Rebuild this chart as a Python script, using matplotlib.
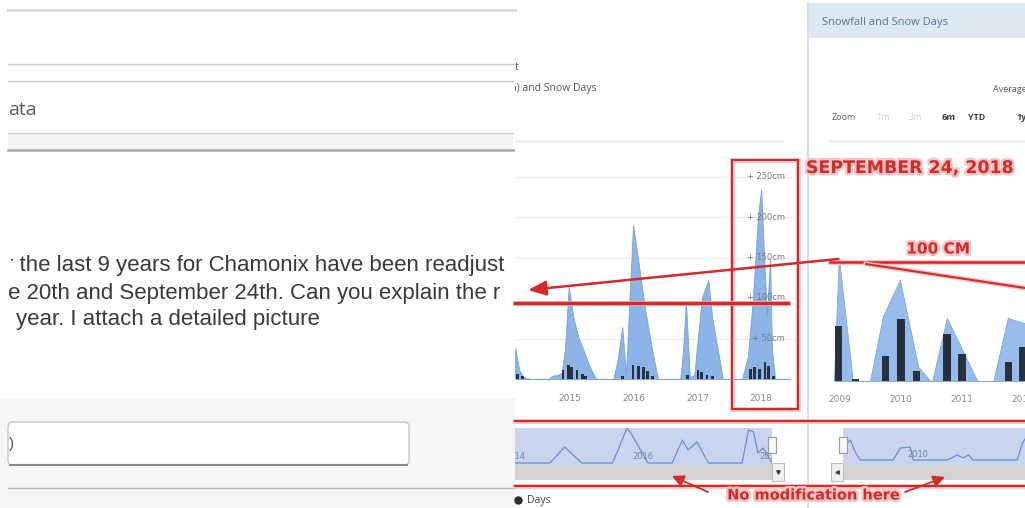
import matplotlib
matplotlib.use('Agg')
import matplotlib.pyplot as plt
from matplotlib.patches import Rectangle, FancyBboxPatch
import matplotlib.patheffects as pe

W, H = 1025, 508

# middle chart (2014-2018): snow depth in cm
depth_yr = [2014.14, 2014.20, 2014.26, 2014.37,
            2014.65, 2014.73, 2014.81, 2014.87, 2014.92, 2014.98, 2015.05, 2015.13, 2015.19, 2015.31, 2015.41,
            2015.68, 2015.75, 2015.82, 2015.88, 2015.94, 2015.99, 2016.07, 2016.18, 2016.29, 2016.38,
            2016.73, 2016.77, 2016.82, 2016.88, 2016.95, 2017.07, 2017.17, 2017.23, 2017.31, 2017.40,
            2017.70, 2017.79, 2017.87, 2017.95, 2018.00, 2018.03, 2018.09, 2018.14, 2018.17, 2018.22, 2018.45]
depth_cm = [38, 12, 3, 0,
            0, 4, 5, 8, 36, 114, 77, 52, 40, 15, 0,
            0, 25, 64, 5, 110, 190, 147, 85, 36, 0,
            0, 30, 95, 2, 5, 101, 122, 77, 40, 0,
            0, 27, 98, 200, 234, 180, 77, 147, 36, 0, 0]
# middle chart: snow days
days_yr = [2014.18, 2014.26,
           2014.89, 2014.97, 2015.03, 2015.11, 2015.19, 2015.25,
           2015.82, 2015.99, 2016.07, 2016.15, 2016.22, 2016.30,
           2016.84, 2017.01, 2017.07, 2017.15, 2017.24,
           2017.83, 2017.90, 2017.98, 2018.06, 2018.12, 2018.19]
days_n = [3, 2,
          6, 9, 8, 6, 3, 2,
          2, 9, 8.5, 8, 5, 2,
          2.5, 6, 4.5, 2.5, 2,
          6.5, 8, 6.5, 11, 8.5, 2]
mid_years = [2015, 2016, 2017, 2018]
mid_levels = [50, 100, 150, 200, 250]

# right chart (2009-2012)
depth2_yr = [2008.90, 2008.98, 2009.21, 2009.49, 2009.70, 2009.98, 2010.28, 2010.48,
             2010.51, 2010.75, 2011.25, 2011.51, 2011.75, 2012.05]
depth2_cm = [0, 104, 0, 0, 54, 85, 12, 0, 0, 53, 0, 0, 53, 48]
days2_yr = [2008.98, 2009.25, 2009.74, 2010.0, 2010.25, 2010.75, 2011.0, 2011.76, 2011.99]
days2_n = [11, 0.4, 5, 12.4, 2, 9.4, 5.4, 3.8, 6.8]
right_years = [2009, 2010, 2011, 2012]

# navigators
nav1_yr = [2014.16, 2014.71, 2014.94, 2015.21, 2015.69, 2015.78, 2015.92, 2015.98, 2016.25, 2016.63,
           2016.79, 2016.88, 2017.02, 2017.20, 2017.73, 2017.83, 2017.91, 2017.98, 2018.06, 2018.20]
nav1_v = [0, 0, 16, 0, 0, 13, 35, 30, 0, 0, 23, 13, 21, 0, 0, 33, 31, 10, 15, 0]
nav2_yr = [2009.02, 2009.07, 2009.15, 2009.23, 2009.77, 2009.89, 2010.05, 2010.10, 2010.66,
           2010.82, 2010.92, 2011.0, 2011.08, 2011.80, 2011.89, 2011.93]
nav2_v = [18, 21, 9, 1, 1, 13, 14, 1, 1, 6, 3, 6, 1, 1, 18, 22]

RED = '#d62828'
AREA = '#8db4e6'
BAR = '#28313f'
glow = [pe.withStroke(linewidth=3.5, foreground='#f6c4c4')]

fig = plt.figure(figsize=(W/100, H/100), dpi=100)


def px_axes(x0, y0, x1, y1, z=1):
    a = fig.add_axes([x0/W, 1-y1/H, (x1-x0)/W, (y1-y0)/H], zorder=z)
    return a


# ---- background / page chrome
bg = px_axes(0, 0, W, H, z=0)
bg.set_xlim(0, W); bg.set_ylim(H, 0); bg.axis('off')
bg.add_patch(Rectangle((0, 398), 515, 110, fc='#f6f6f6', ec='none'))
bg.plot([8, 515], [10, 10], color='#d9d9d9', lw=2)
bg.plot([8, 513], [64, 64], color='#c8c8c8', lw=1)
bg.plot([8, 513], [81, 81], color='#c8c8c8', lw=1)
bg.add_patch(Rectangle((8, 133), 505, 17, fc='#f4f4f4', ec='none'))
bg.plot([8, 513], [133, 133], color='#d0d0d0', lw=1)
bg.plot([8, 513], [150, 150], color='#a8a8a8', lw=1.8)
bg.add_patch(FancyBboxPatch((8, 422), 401, 43, boxstyle='round,pad=0,rounding_size=5',
                            fc='white', ec='#c4c4c4', lw=1))
bg.plot([10, 407], [465, 465], color='#8a8a8a', lw=1.5)
bg.plot([8, 515], [488, 488], color='#b8b8b8', lw=1)
bg.text(9, 444, ')', fontsize=11, color='#555', va='center', family='Liberation Sans')
bg.text(8, 110, 'ata', fontsize=14, color='#5a5a5a', va='center', family='Open Sans')

txt_kw = dict(fontsize=16, color='#3a3a3a', va='center', family='Liberation Sans', clip_on=True)
for x, y, s, cl in [(6.4, 265, 'r the last 9 years for Chamonix have been readjust', 10.5),
                    (8, 293, 'e 20th and September 24th. Can you explain the r', 0),
                    (16, 320, 'year. I attach a detailed picture', 0)]:
    t = bg.text(x, y, s, **txt_kw)
    t.set_clip_path(Rectangle((cl, 0), 515 - cl, H, transform=bg.transData))

for x, y, s in [(519, 68, 'Chart'), (507, 88, 'm) and Snow Days')]:
    ha = 'right' if s == 'Chart' else 'left'
    t = bg.text(x, y, s, fontsize=7.5, color='#555', va='center', ha=ha, family='Open Sans', clip_on=True)
    t.set_clip_path(Rectangle((515, 0), 293, H, transform=bg.transData))
bg.plot([515, 782], [141, 141], color='#e4e4e4', lw=1)

# right panel chrome
bg.add_patch(Rectangle((808, 3), 217, 35, fc='#dce9f2', ec='none'))
bg.plot([808, 808], [3, H], color='#d3e0ea', lw=1.5)
bg.text(822, 22, 'Snowfall and Snow Days', fontsize=8, color='#56758f', va='center', family='Open Sans')
bg.text(993, 89, 'Average', fontsize=6.5, color='#555', va='center', family='Open Sans')
for x, s, c, w in [(832, 'Zoom', '#666', 'normal'), (876, '1m', '#d0d0d0', 'normal'),
                   (909, '3m', '#d0d0d0', 'normal'), (942, '6m', '#333', 'bold'),
                   (968, 'YTD', '#444', 'bold'), (1016, '1y', '#444', 'bold')]:
    bg.text(x, 118, s, fontsize=6.5, color=c, fontweight=w, va='center', family='Open Sans')
bg.plot([830, 1025], [141, 141], color='#e4e4e4', lw=1)

# navigator scrollbars
bg.add_patch(Rectangle((515, 465), 257, 15, fc='#d3d3d3', ec='none'))
bg.add_patch(Rectangle((843, 465), 182, 15, fc='#d3d3d3', ec='none'))
bg.add_patch(Rectangle((772, 463), 12, 18, fc='#f0f0f0', ec='#c0c0c0', lw=0.8))
bg.add_patch(Rectangle((831, 463), 12, 18, fc='#f0f0f0', ec='#c0c0c0', lw=0.8))
bg.plot([778], [472], marker='v', ms=2.5, color='#444')
bg.plot([837], [472], marker='<', ms=2.5, color='#444')

# bottom legend fragment
bg.plot([518], [500], marker='o', ms=5, color='#2a2a2a')
bg.text(527, 500, 'Days', fontsize=7.5, color='#444', va='center', family='Open Sans')

# ---- middle chart
ax1 = px_axes(515, 150, 800, 379, z=1)
ax1.set_xlim(2014.137, 2018.61)
ax1.set_ylim(0, 229/0.81)
ax1.patch.set_alpha(0)
for s in ax1.spines.values():
    s.set_visible(False)
for v in mid_levels:
    ax1.axhline(v, color='#efefef', lw=0.8, zorder=0)
ax1.fill_between(depth_yr, depth_cm, color=AREA, edgecolor='#74a0da', lw=0.6, zorder=1)
ax1.axhline(0, color='#cfd8e8', lw=1, zorder=2)
ax1.set_yticks([])
ax1.set_xticks(mid_years)
ax1.set_xticklabels([str(y) for y in mid_years])
ax1.tick_params(axis='x', length=0, pad=11, labelsize=6.5, labelcolor='#8a8a8a')
for v in mid_levels:
    ax1.text(0.947, v, f'+ {v}cm', transform=ax1.get_yaxis_transform(), ha='right',
             va='center', fontsize=6, color='#7a7a7a', zorder=3)
ax1b = ax1.twinx()
ax1b.bar(days_yr, days_n, width=0.045, color=BAR, zorder=3)
ax1b.set_ylim(0, 150)
ax1b.axis('off')

# ---- right chart
ax2 = px_axes(815, 230, 1025, 381, z=1)
ax2.set_xlim(2008.59, 2012.03)
ax2.set_ylim(0, 151/1.19)
ax2.patch.set_alpha(0)
for s in ax2.spines.values():
    s.set_visible(False)
ax2.fill_between(depth2_yr, depth2_cm, color='#97bceb', edgecolor='#7ea6dc', lw=0.6, zorder=1)
ax2.set_yticks([])
ax2.set_xticks(right_years)
ax2.set_xticklabels([str(y) for y in right_years])
ax2.tick_params(axis='x', length=0, pad=10, labelsize=6.5, labelcolor='#8a8a8a')
ax2b = ax2.twinx()
ax2b.bar(days2_yr, days2_n, width=0.12, color=BAR, zorder=3)
ax2b.set_ylim(0, 30)
ax2b.axis('off')

# ---- navigators
for box, xs, vs, xl, labels, ybase in [((515, 428, 772, 465), nav1_yr, nav1_v, (2014.16, 2018.20), [2014, 2016, 2018], 2),
                                       ((843, 428, 1025, 465), nav2_yr, nav2_v, (2008.95, 2011.93), [2010], 4)]:
    nv = px_axes(*box, z=1)
    nv.set_facecolor('#c9d5ee')
    nv.set_xlim(*xl)
    nv.set_ylim(-ybase, 37 - ybase)
    nv.plot(xs, vs, color='#6c8cd0', lw=0.9)
    for y in labels:
        nv.text(y, 4, str(y), fontsize=6, color='#6f86ae', clip_on=True)
    nv.set_xticks([]); nv.set_yticks([])
    for s in nv.spines.values():
        s.set_visible(False)

bg2 = px_axes(0, 0, W, H, z=4)
bg2.set_xlim(0, W); bg2.set_ylim(H, 0); bg2.axis('off'); bg2.patch.set_alpha(0)
bg2.add_patch(Rectangle((768, 437), 8, 16, fc='#f6f6f6', ec='#9a9a9a', lw=0.8))
bg2.add_patch(Rectangle((839, 437), 8, 16, fc='#f6f6f6', ec='#9a9a9a', lw=0.8))

# ---- red annotations
bg2.add_patch(Rectangle((732, 160), 66, 249, fc='none', ec=RED, lw=1.5, path_effects=glow))
bg2.plot([515, 788], [303, 303], color=RED, lw=2.5, path_effects=glow)
bg2.annotate('', xy=(528, 290), xytext=(838, 259),
             arrowprops=dict(arrowstyle='-|>,head_length=1.1,head_width=0.45', color=RED, lw=1.8,
                             shrinkA=0, shrinkB=0))
bg2.plot([830, 1025], [262, 262], color=RED, lw=1.8, path_effects=glow)
bg2.plot([866, 1025], [264, 288], color=RED, lw=1.5, path_effects=glow)
bg2.plot([515, 1025], [421, 421], color=RED, lw=1.5, path_effects=glow)
bg2.plot([515, 1025], [486, 486], color=RED, lw=1.5, path_effects=glow)
bg2.text(814, 495, 'No modification here', fontsize=10.5, fontweight='bold', color=RED,
         ha='center', va='center', path_effects=glow)
for a, b in [((708, 492), (672, 476)), ((905, 492), (945, 477))]:
    bg2.annotate('', xy=b, xytext=a,
                 arrowprops=dict(arrowstyle='-|>,head_length=0.7,head_width=0.35', color=RED, lw=1.3,
                                 shrinkA=0, shrinkB=0))
bg2.text(938, 249, '100 CM', fontsize=11, fontweight='bold', color=RED, ha='center', va='center',
         path_effects=glow)
bg2.text(806, 168, 'SEPTEMBER 24, 2018', fontsize=12.5, fontweight='bold', color=RED, va='center',
         path_effects=glow)

fig.savefig('out.png', dpi=100)
